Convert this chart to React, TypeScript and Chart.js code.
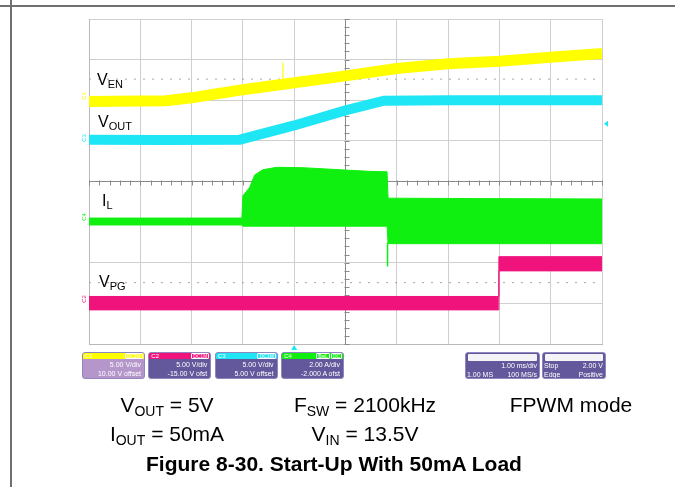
import React, { useEffect, useRef } from "react";
import { Chart, registerables } from "chart.js";

Chart.register(...registerables);

// Time axis: ms (1 ms/div, 10 divisions). Vertical axis: screen divisions (-4 .. 4).
const timeMin = 0;
const timeMax = 10;
const divMin = -4;
const divMax = 4;

// C1 (yellow) V_EN
const enTime = [0, 1.5, 2, 2.5, 3, 4, 5, 6, 7, 8, 9, 10];
const enLevel = [1.97, 1.99, 2.06, 2.16, 2.26, 2.43, 2.6, 2.78, 2.9, 2.96, 3.06, 3.15];
const enSpikeTime = [3.78, 3.78];
const enSpikeLevel = [2.4, 2.93];

// C3 (cyan) V_OUT
const outTime = [0, 1.5, 2.94, 4, 5, 5.75, 7, 10];
const outLevel = [1.03, 1.02, 1.03, 1.38, 1.75, 1.99, 2.0, 2.0];

// C4 (green) I_L envelope
const ilTime = [0, 2.98, 3.0, 3.13, 3.23, 3.39, 3.66, 4.17, 4.89, 5.47, 5.81, 5.83, 7.5, 10];
const ilTop = [-0.9, -0.9, -0.35, -0.15, 0.16, 0.29, 0.35, 0.34, 0.29, 0.25, 0.24, -0.41, -0.42, -0.43];
const ilBottom = [-1.07, -1.07, -1.1, -1.1, -1.1, -1.1, -1.1, -1.1, -1.1, -1.1, -1.1, -1.53, -1.53, -1.53];
const ilSpikeTime = [5.82, 5.82];
const ilSpikeLevel = [-1.5, -2.09];

// C2 (pink) V_PG envelope
const pgTime = [0, 7.98, 7.99, 10];
const pgTop = [-2.83, -2.83, -1.85, -1.85];
const pgBottom = [-3.16, -3.16, -2.2, -2.2];

// cursor (dotted) levels
const cursorLevels = [2.52, -2.49];

// trigger
const triggerTime = 4;
const triggerLevel = 1.42;

// channel info
const channelNames = ["C1", "C2", "C3", "C4"];
const channelScales = ["5.00 V/div", "5.00 V/div", "5.00 V/div", "2.00 A/div"];
const channelOffsets = ["10.00 V offset", "-15.00 V ofst", "5.00 V offset", "-2.000 A ofst"];
const channelCoupling = [["DC1M"], ["DC1M"], ["DC1M"], ["BwL", "DC"]];

const YELLOW = "#ffff00";
const CYAN = "#1ee6f4";
const GREEN = "#10f010";
const PINK = "#f0137c";
const channelColors = [YELLOW, PINK, CYAN, GREEN];
const channelBodies = ["#b596cb", "#63589b", "#63589b", "#63589b"];

const FONT = '"Liberation Sans", Arial, Helvetica, sans-serif';

const pts = (xs: number[], ys: number[]) => xs.map((x, i) => ({ x, y: ys[i] }));

const scopePlugin = {
  id: "scopeDecor",
  beforeDatasetsDraw(chart: any) {
    const { ctx, scales } = chart;
    const x = scales.x;
    const y = scales.y;
    const cx = Math.round(x.getPixelForValue((timeMin + timeMax) / 2)) + 0.5;
    const cy = Math.round(y.getPixelForValue(0)) + 0.5;
    ctx.save();
    ctx.strokeStyle = "#8a8a8a";
    ctx.lineWidth = 1;
    ctx.beginPath();
    for (let k = 0; k <= 50; k++) {
      const px = Math.round(x.getPixelForValue(timeMin + k * 0.2)) + 0.5;
      ctx.moveTo(px, cy - 2);
      ctx.lineTo(px, cy + 3);
    }
    for (let k = 0; k <= 40; k++) {
      const py = Math.round(y.getPixelForValue(divMin + k * 0.2)) + 0.5;
      ctx.moveTo(cx - 2, py);
      ctx.lineTo(cx + 3, py);
    }
    ctx.stroke();
    ctx.restore();
  },
  afterDraw(chart: any) {
    const { ctx, scales, chartArea } = chart;
    const tx = scales.x.getPixelForValue(triggerTime);
    const ty = scales.y.getPixelForValue(triggerLevel);
    ctx.save();
    ctx.fillStyle = CYAN;
    ctx.beginPath();
    ctx.moveTo(tx, chartArea.bottom + 1);
    ctx.lineTo(tx - 3, chartArea.bottom + 6);
    ctx.lineTo(tx + 3, chartArea.bottom + 6);
    ctx.closePath();
    ctx.fill();
    ctx.beginPath();
    ctx.moveTo(chartArea.right + 2, ty);
    ctx.lineTo(chartArea.right + 6, ty - 3);
    ctx.lineTo(chartArea.right + 6, ty + 3);
    ctx.closePath();
    ctx.fill();
    ctx.restore();
  },
};

function Label(props: { main: string; sub: string; left: number; top: number; size: number; subSize: number; drop: number }) {
  return (
    <div
      style={{
        position: "absolute",
        left: props.left,
        top: props.top,
        fontSize: props.size,
        lineHeight: 1,
        whiteSpace: "nowrap",
        color: "#000",
      }}
    >
      {props.main}
      <span style={{ fontSize: props.subSize, position: "relative", top: props.drop }}>{props.sub}</span>
    </div>
  );
}

function CenteredLine(props: { center: number; top: number; children: React.ReactNode; bold?: boolean; size: number }) {
  return (
    <div
      style={{
        position: "absolute",
        left: props.center - 220,
        width: 440,
        top: props.top,
        textAlign: "center",
        fontSize: props.size,
        fontWeight: props.bold ? "bold" : "normal",
        lineHeight: 1,
        whiteSpace: "nowrap",
        color: "#000",
      }}
    >
      {props.children}
    </div>
  );
}

const sub = (t: string) => <span style={{ fontSize: 14, position: "relative", top: 4 }}>{t}</span>;

export default function App() {
  const ref = useRef<HTMLCanvasElement>(null);

  useEffect(() => {
    const cursorSets = cursorLevels.map((lv) => ({
      data: pts([timeMin, timeMax], [lv, lv]),
      borderColor: "#a6a6a6",
      borderWidth: 1,
      borderDash: [2, 7],
      pointRadius: 0,
      fill: false,
    }));
    const chart = new Chart(ref.current as HTMLCanvasElement, {
      type: "line",
      data: {
        datasets: [
          { data: pts(enTime, enLevel), borderColor: YELLOW, borderWidth: 11, pointRadius: 0, fill: false },
          { data: pts(enSpikeTime, enSpikeLevel), borderColor: YELLOW, borderWidth: 1.2, pointRadius: 0, fill: false },
          { data: pts(outTime, outLevel), borderColor: CYAN, borderWidth: 10, pointRadius: 0, fill: false },
          { data: pts(ilTime, ilTop), borderColor: GREEN, backgroundColor: GREEN, borderWidth: 1, pointRadius: 0, fill: "+1" },
          { data: pts(ilTime, ilBottom), borderColor: GREEN, borderWidth: 1, pointRadius: 0, fill: false },
          { data: pts(ilSpikeTime, ilSpikeLevel), borderColor: GREEN, borderWidth: 1.5, pointRadius: 0, fill: false },
          { data: pts(pgTime, pgTop), borderColor: PINK, backgroundColor: PINK, borderWidth: 1, pointRadius: 0, fill: "+1" },
          { data: pts(pgTime, pgBottom), borderColor: PINK, borderWidth: 1, pointRadius: 0, fill: false },
          ...cursorSets,
        ] as any,
      },
      options: {
        animation: false,
        responsive: false,
        devicePixelRatio: 1,
        layout: { padding: { left: 89, top: 19, right: 73, bottom: 143 } },
        plugins: { legend: { display: false }, tooltip: { enabled: false }, title: { display: false } },
        elements: { line: { tension: 0 } },
        scales: {
          x: {
            type: "linear",
            min: timeMin,
            max: timeMax,
            ticks: { display: false, stepSize: 1 },
            grid: {
              drawTicks: false,
              color: (c: any) => (c.tick && c.tick.value === 5 ? "#8a8a8a" : "#cfcfcf"),
            },
            border: { display: true, color: "#b8b8b8" },
          },
          y: {
            type: "linear",
            min: divMin,
            max: divMax,
            ticks: { display: false, stepSize: 1 },
            grid: {
              drawTicks: false,
              color: (c: any) => (c.tick && c.tick.value === 0 ? "#8a8a8a" : "#cfcfcf"),
            },
            border: { display: true, color: "#b8b8b8" },
          },
        },
      },
      plugins: [scopePlugin],
    } as any);
    return () => chart.destroy();
  }, []);

  return (
    <div
      style={{
        position: "absolute",
        left: 0,
        top: 0,
        width: 675,
        height: 487,
        background: "#fff",
        overflow: "hidden",
        fontFamily: FONT,
      }}
    >
      <div style={{ position: "absolute", left: 0, top: 5, width: 675, height: 2, background: "#707070" }} />
      <div style={{ position: "absolute", left: 10, top: 0, width: 2, height: 487, background: "#707070" }} />
      <canvas ref={ref} width={675} height={487} style={{ position: "absolute", left: 0, top: 0, width: 675, height: 487 }} />

      <Label main="V" sub="EN" left={97} top={72} size={16} subSize={11} drop={3} />
      <Label main="V" sub="OUT" left={98} top={114} size={16} subSize={11} drop={3} />
      <Label main="I" sub="L" left={102} top={193} size={16} subSize={11} drop={3} />
      <Label main="V" sub="PG" left={99} top={274} size={16} subSize={11} drop={3} />

      {[
        { t: "C1", c: YELLOW, y: 96 },
        { t: "C3", c: CYAN, y: 138 },
        { t: "C4", c: GREEN, y: 217 },
        { t: "C2", c: PINK, y: 299 },
      ].map((m) => (
        <div
          key={m.t}
          style={{
            position: "absolute",
            left: 79,
            top: m.y - 4,
            width: 10,
            height: 8,
            fontSize: 6,
            lineHeight: "8px",
            color: m.c,
            transform: "rotate(-90deg)",
            textAlign: "center",
          }}
        >
          {m.t}
        </div>
      ))}

      {channelNames.map((name, i) => (
        <div
          key={name}
          style={{
            position: "absolute",
            left: 82 + i * 66.3,
            top: 352,
            width: 63,
            height: 27,
            borderRadius: 3,
            background: channelBodies[i],
            overflow: "hidden",
            boxSizing: "border-box",
            border: "1px solid #8f86bd",
            color: "#fff",
          }}
        >
          <div
            style={{
              height: 6,
              background: channelColors[i],
              position: "relative",
              fontSize: 6,
              lineHeight: "6px",
              paddingLeft: 2,
              color: "#fff",
            }}
          >
            {name}
            <span style={{ position: "absolute", right: 1, top: 0, display: "flex", gap: 1 }}>
              {channelCoupling[i].map((cp) => (
                <span key={cp} style={{ border: "1px solid #fff", borderRadius: 1, fontSize: 5, lineHeight: "4px", padding: "0 1px" }}>
                  {cp}
                </span>
              ))}
            </span>
          </div>
          <div style={{ fontSize: 7, lineHeight: "8.5px", textAlign: "right", paddingRight: 3, marginTop: 2 }}>
            {channelScales[i]}
            <br />
            {channelOffsets[i]}
          </div>
        </div>
      ))}

      <div
        style={{
          position: "absolute",
          left: 465,
          top: 352,
          width: 75,
          height: 27,
          borderRadius: 3,
          background: "#63589b",
          overflow: "hidden",
          boxSizing: "border-box",
          border: "1px solid #8f86bd",
          color: "#fff",
          fontSize: 7,
        }}
      >
        <div style={{ height: 7, background: "#f4f3f8", margin: "1px 2px", borderRadius: 1 }} />
        <div style={{ lineHeight: "8.5px", textAlign: "right", paddingRight: 2 }}>1.00 ms/div</div>
        <div style={{ lineHeight: "8.5px", display: "flex", justifyContent: "space-between", padding: "0 2px 0 1px" }}>
          <span>1.00 MS</span>
          <span>100 MS/s</span>
        </div>
      </div>
      <div
        style={{
          position: "absolute",
          left: 542,
          top: 352,
          width: 64,
          height: 27,
          borderRadius: 3,
          background: "#63589b",
          overflow: "hidden",
          boxSizing: "border-box",
          border: "1px solid #8f86bd",
          color: "#fff",
          fontSize: 7,
        }}
      >
        <div style={{ height: 7, background: "#f4f3f8", margin: "1px 2px", borderRadius: 1 }} />
        <div style={{ lineHeight: "8.5px", display: "flex", justifyContent: "space-between", padding: "0 2px 0 1px" }}>
          <span>Stop</span>
          <span>2.00 V</span>
        </div>
        <div style={{ lineHeight: "8.5px", display: "flex", justifyContent: "space-between", padding: "0 2px 0 1px" }}>
          <span>Edge</span>
          <span>Positive</span>
        </div>
      </div>

      <CenteredLine center={167} top={394} size={21}>
        V{sub("OUT")} = 5V
      </CenteredLine>
      <CenteredLine center={365} top={394} size={21}>
        F{sub("SW")} = 2100kHz
      </CenteredLine>
      <CenteredLine center={571} top={394} size={21}>
        FPWM mode
      </CenteredLine>
      <CenteredLine center={167} top={423} size={21}>
        I{sub("OUT")} = 50mA
      </CenteredLine>
      <CenteredLine center={365} top={423} size={21}>
        V{sub("IN")} = 13.5V
      </CenteredLine>
      <CenteredLine center={334} top={453} size={21} bold>
        Figure 8-30. Start-Up With 50mA Load
      </CenteredLine>
    </div>
  );
}
